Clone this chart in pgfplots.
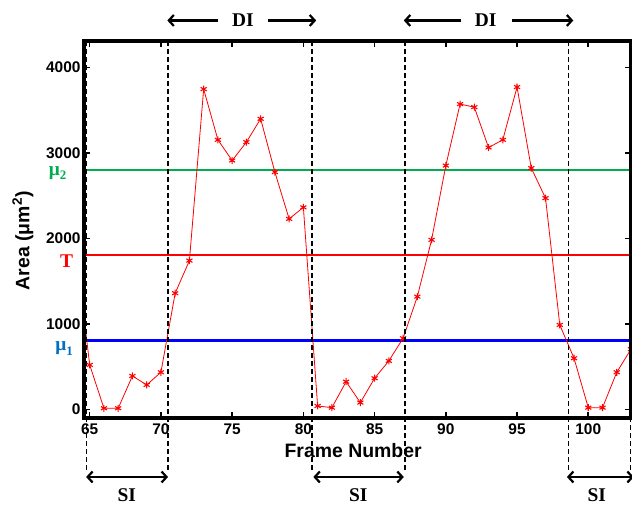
\documentclass[border=0pt]{standalone}
\usepackage{pgfplots}
\pgfplotsset{compat=1.18}
\usepackage{fontspec}
\setmainfont{Liberation Serif}
\setsansfont{Liberation Sans}
\usetikzlibrary{arrows.meta}

\definecolor{mugreen}{RGB}{0,172,78}
\definecolor{mublue}{RGB}{0,110,195}
\definecolor{linered}{RGB}{255,0,0}
\definecolor{lineblue}{RGB}{0,0,255}

\tikzset{
  region/.style={black,line width=1.3bp,dash pattern=on 5bp off 3bp},
  lab/.style={font=\rmfamily\bfseries\fontsize{19.5}{19.5}\selectfont,inner sep=0pt},
  harrow/.style={line width=2.2bp,-{Straight Barb[length=5bp,width=11bp]}},
  darrow/.style={line width=2.2bp,{Straight Barb[length=5bp,width=11bp]}-{Straight Barb[length=5bp,width=11bp]}}
}

\begin{document}
\begin{tikzpicture}
\begin{axis}[
  at={(84bp,88bp)},anchor=south west,
  scale only axis,width=547bp,height=377bp,
  xmin=64.6,xmax=103,ymin=-100,ymax=4310,
  xtick={65,70,...,100},ytick={0,1000,...,4000},
  tick align=inside,major tick length=6bp,
  tick style={line width=1.6bp,black},
  ticklabel style={font=\sffamily\bfseries\fontsize{15.5}{16}\selectfont},
  xticklabel style={yshift=-2bp},
  /pgf/number format/assume math mode=true,
  /pgf/number format/1000 sep={},
  xlabel={Frame Number},
  ylabel={Area (μm\textsuperscript{2})},
  label style={font=\sffamily\bfseries\fontsize{19.5}{20}\selectfont},
  xlabel style={at={(axis description cs:0.492,-0.0875)},anchor=center},
  ylabel style={at={(axis description cs:-0.1115,0.47)},anchor=center},
  clip mode=individual,
]
% thresholds
\addplot[mugreen,line width=2.3bp] coordinates {(64.6,2803) (103,2803)};
\addplot[linered,line width=2.3bp] coordinates {(64.6,1805) (103,1805)};
\addplot[lineblue,line width=2.3bp] coordinates {(64.6,805) (103,805)};

% area per frame
\addplot[linered,line width=0.8bp,mark=asterisk,mark size=3.5bp,
  mark options={line width=1.1bp}] coordinates {
(64,1920) (65,521) (66,14) (67,14) (68,392) (69,287) (70,435)
(71,1360) (72,1741) (73,3747) (74,3154) (75,2912) (76,3127) (77,3400)
(78,2776) (79,2229) (80,2364) (81,41) (82,21) (83,325) (84,80)
(85,365) (86,568) (87,833) (88,1320) (89,1984) (90,2853) (91,3572)
(92,3536) (93,3064) (94,3154) (95,3771) (96,2823) (97,2472) (98,989)
(99,599) (100,21) (101,21) (102,435) (103,705)
};

% interval boundaries
\foreach \xv in {64.77,70.5,80.6,87.13,98.6,102.95}{
  \edef\tmp{\noexpand\draw[region] (axis cs:\xv,4310) -- (axis cs:\xv,-708);}
  \tmp
}

% DI
\draw[harrow] (axis cs:74.0,4550) -- (axis cs:70.45,4550);
\draw[harrow] (axis cs:77.5,4550) -- (axis cs:80.9,4550);
\node[lab] at (axis cs:75.75,4550) {DI};
\draw[harrow] (axis cs:91.1,4550) -- (axis cs:87.05,4550);
\draw[harrow] (axis cs:94.65,4550) -- (axis cs:98.95,4550);
\node[lab] at (axis cs:92.8,4550) {DI};

% SI
\draw[darrow] (axis cs:64.75,-790) -- (axis cs:70.5,-790);
\node[lab] at (axis cs:67.6,-1000) {SI};
\draw[darrow] (axis cs:80.7,-790) -- (axis cs:87.05,-790);
\node[lab] at (axis cs:83.85,-1000) {SI};
\draw[darrow] (axis cs:98.5,-790) -- (axis cs:103.2,-790);
\node[lab] at (axis cs:100.6,-1000) {SI};

% threshold names
\node[lab,text=mugreen,anchor=base] at (axis cs:62.74,2741) {μ\raisebox{-0.22em}{\fontsize{13}{13}\selectfont 2}};
\node[lab,text=linered,anchor=base] at (axis cs:63.37,1655) {T};
\node[lab,text=mublue,anchor=base] at (axis cs:63.2,684) {μ\raisebox{-0.22em}{\fontsize{13}{13}\selectfont 1}};
\end{axis}
% heavy frame round the axis box
\draw[black,line width=3.5bp] (84bp,88bp) rectangle (631bp,465bp);
\pgfresetboundingbox
\path[use as bounding box] (0,0) rectangle (632bp,506bp);
\end{tikzpicture}
\end{document}
